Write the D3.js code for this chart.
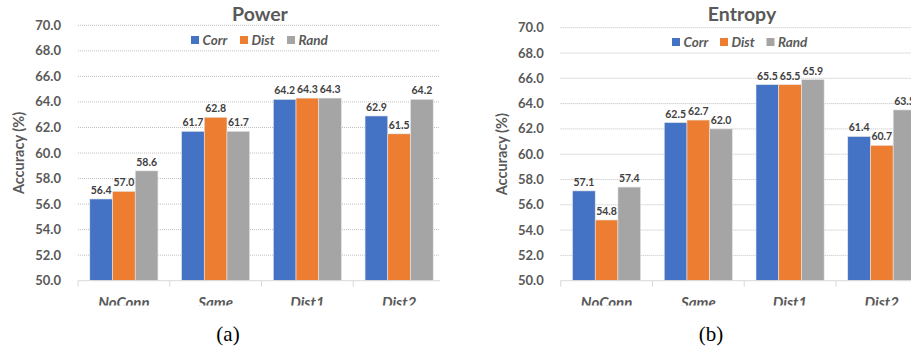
<!DOCTYPE html>
<html><head><meta charset="utf-8">
<script src="https://cdn.jsdelivr.net/npm/d3@7"></script>
<style>
html,body{margin:0;padding:0;background:#fff;}
svg{display:block;font-family:Lato,"Open Sans",sans-serif;}
</style></head>
<body>
<svg id="chart" width="911" height="347"></svg>
<script>
const categories = ["NoConn", "Same", "Dist1", "Dist2"];
const seriesNames = ["Corr", "Dist", "Rand"];
const seriesColors = ["#4472C4", "#ED7D31", "#A5A5A5"];
const yTicks = [50, 52, 54, 56, 58, 60, 62, 64, 66, 68, 70];
const powerCorr = [56.4, 61.7, 64.2, 62.9];
const powerDist = [57.0, 62.8, 64.3, 61.5];
const powerRand = [58.6, 61.7, 64.3, 64.2];
const entropyCorr = [57.1, 62.5, 65.5, 61.4];
const entropyDist = [54.8, 62.7, 65.5, 60.7];
const entropyRand = [57.4, 62.0, 65.9, 63.5];

const svg = d3.select("#chart");
const textCol = "#595959";

svg.append("defs").append("clipPath").attr("id","pageclip")
  .append("rect").attr("x",0).attr("y",0).attr("width",911).attr("height",305.5);

function panel(cfg){
  const g = svg.append("g");
  const x0 = d3.scaleBand().domain(categories).range([cfg.left, cfg.left + 4*91.75]).paddingInner(0).paddingOuter(0);
  const y = d3.scaleLinear().domain([50,70]).range([cfg.bottom, cfg.top]);
  const innerPad = 11.8;
  const x1 = d3.scaleBand().domain(seriesNames).range([innerPad, x0.bandwidth()-innerPad]).padding(0);

  g.append("g").selectAll("line").data(yTicks.filter(d=>d>50)).join("line")
    .attr("x1", cfg.left).attr("x2", cfg.gridRight)
    .attr("y1", d=>y(d)).attr("y2", d=>y(d))
    .attr("stroke","#BFBFBF").attr("stroke-width",1).attr("stroke-dasharray","1,1");

  g.append("g").selectAll("text").data(yTicks).join("text")
    .attr("x", cfg.left - 17).attr("y", d=>y(d)).attr("dy","0.35em")
    .attr("text-anchor","end").attr("font-size",13).attr("font-weight","bold")
    .attr("fill",textCol).text(d=>d.toFixed(1));

  g.append("text").attr("transform",`translate(${cfg.left-59},${(cfg.top+cfg.bottom)/2}) rotate(-90)`)
    .attr("text-anchor","middle").attr("dy","0.35em").attr("font-size",14.5).attr("font-weight","bold")
    .attr("fill",textCol).text("Accuracy (%)");

  const data = categories.map((c,i)=>({cat:c, vals: seriesNames.map((s,j)=>({s, v: cfg.series[j][i], color: seriesColors[j]}))}));
  const groups = g.append("g").selectAll("g").data(data).join("g")
    .attr("transform", d=>`translate(${x0(d.cat)},0)`);
  groups.selectAll("rect").data(d=>d.vals).join("rect")
    .attr("x", d=>x1(d.s)).attr("width", x1.bandwidth())
    .attr("y", d=>y(d.v)).attr("height", d=>y(50)-y(d.v))
    .attr("fill", d=>d.color).attr("stroke","#E8E8E8").attr("stroke-width",0.6);
  groups.selectAll("text").data(d=>d.vals).join("text")
    .attr("x", d=>x1(d.s)+x1.bandwidth()/2).attr("y", d=>y(d.v)-5)
    .attr("text-anchor","middle").attr("font-size",10.5).attr("font-weight","bold")
    .attr("fill","#404040").text(d=>d.v.toFixed(1));

  g.append("line").attr("x1",cfg.left).attr("x2",cfg.gridRight).attr("y1",y(50)).attr("y2",y(50))
    .attr("stroke","#D9D9D9").attr("stroke-width",1);
  g.append("g").selectAll("line").data(categories).join("line")
    .attr("x1", d=>x0(d)).attr("x2", d=>x0(d)).attr("y1", y(50)).attr("y2", y(50)+6)
    .attr("stroke","#D9D9D9").attr("stroke-width",1);

  g.append("g").attr("clip-path","url(#pageclip)").selectAll("text").data(categories).join("text")
    .attr("x", d=>x0(d)+x0.bandwidth()/2).attr("y", 307.5)
    .attr("text-anchor","middle").attr("font-size",15).attr("font-weight","bold").attr("font-style","italic")
    .attr("fill",textCol).text(d=>d);

  g.append("text").attr("x", cfg.titleX).attr("y", 21).attr("text-anchor","middle")
    .attr("font-size",19.5).attr("font-weight","bold").attr("fill",textCol).text(cfg.title);

  const lg = g.append("g");
  seriesNames.forEach((s,j)=>{
    lg.append("rect").attr("x", cfg.legendXs[j]).attr("y", cfg.legendY-4).attr("width",8).attr("height",8).attr("fill",seriesColors[j]);
    lg.append("text").attr("x", cfg.legendXs[j]+11.5).attr("y", cfg.legendY).attr("dy","0.35em")
      .attr("font-size",13.5).attr("font-weight","bold").attr("font-style","italic").attr("fill",textCol).text(s);
  });

  svg.append("text").attr("x", cfg.captionX).attr("y", 341).attr("text-anchor","middle")
    .attr("font-family","'Liberation Serif','Times New Roman',serif").attr("font-size",21).attr("fill","#000")
    .text(cfg.caption);
}

panel({left:78, gridRight:440, top:25.3, bottom:280.7, series:[powerCorr,powerDist,powerRand],
  title:"Power", titleX:260, legendXs:[191,240,287], legendY:40,
  caption:"(a)", captionX:228});
panel({left:560.7, gridRight:930, top:27.7, bottom:280.7, series:[entropyCorr,entropyDist,entropyRand],
  title:"Entropy", titleX:742, legendXs:[672,720,766.5], legendY:42,
  caption:"(b)", captionX:711});
</script>
</body></html>
